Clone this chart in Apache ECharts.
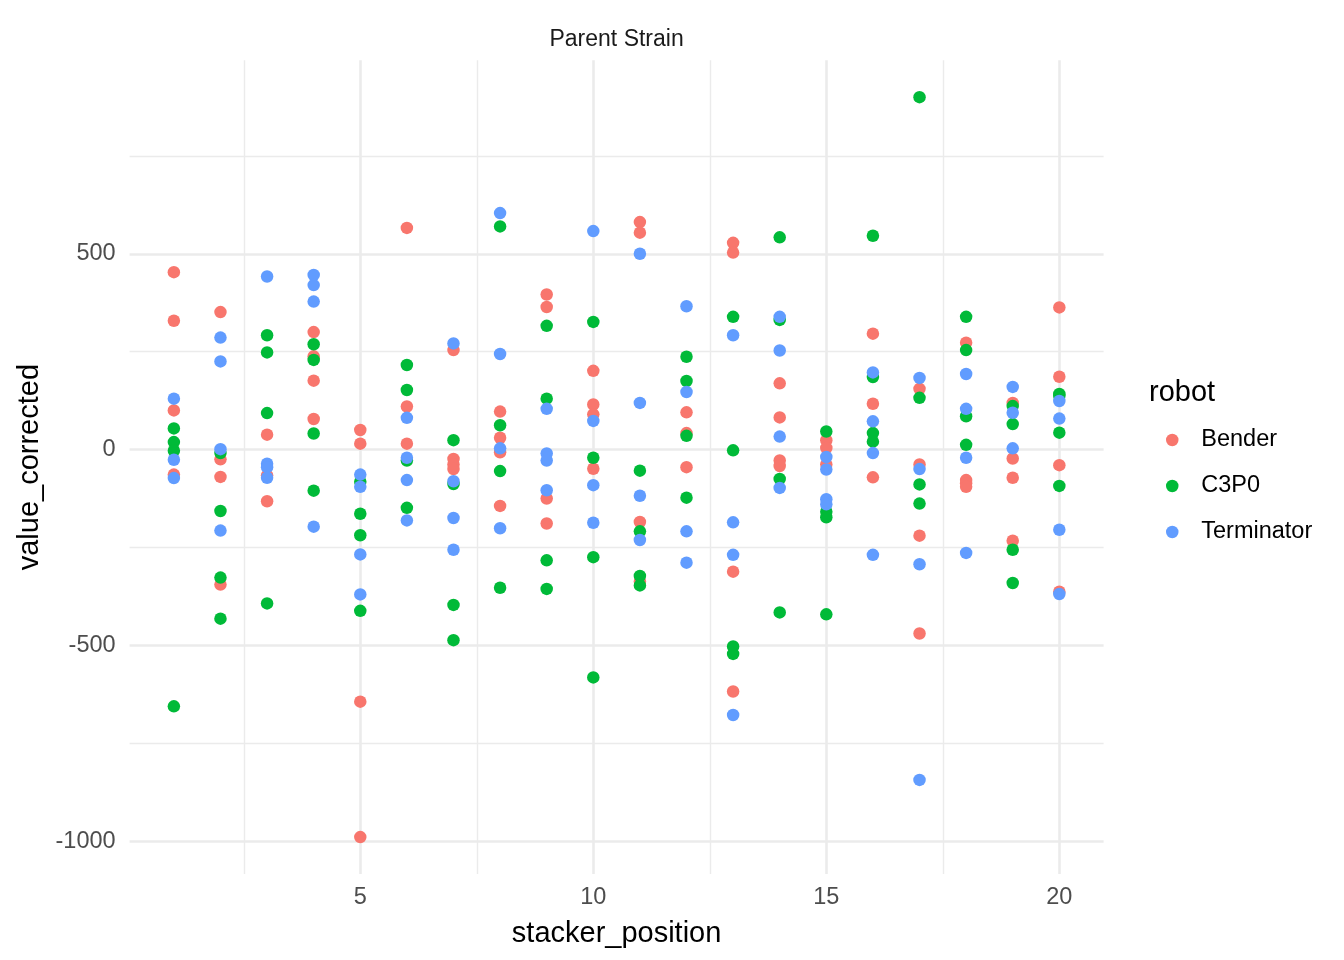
<!DOCTYPE html>
<html>
<head>
<meta charset="utf-8">
<script src="https://cdn.jsdelivr.net/npm/echarts@6/dist/echarts.min.js"></script>
<style>
html,body{margin:0;padding:0;background:#fff;}
#chart{width:1344px;height:960px;}
</style>
</head>
<body>
<div id="chart"></div>
<script>
// stacker positions 1..20
const positions = [1,2,3,4,5,6,7,8,9,10,11,12,13,14,15,16,17,18,19,20];
const robots = ['Bender','C3P0','Terminator'];
const robotColors = ['#F8766D','#00BA38','#619CFF'];

// values per stacker position
const bender = [
  [453,329,100,-64],[351,-25,-70,-345],[38,-66,-132],[300,238,176,78],
  [50,15,-644,-990],[566,110,15],[254,-24,-38,-50],[97,30,-7,-144],
  [396,364,-125,-189],[201,115,90,-49],[581,554,-185,-337],[95,42,-45],
  [528,503,-312,-618],[169,82,-28,-42],[24,4,-38],[296,117,-71],
  [155,-38,-220,-470],[273,-78,-86,-95],[119,-23,-72,-233],[363,186,-40,-363]
];
const c3p0 = [
  [54,19,-3,-656],[-9,-157,-327,-432],[292,248,93,-393],[269,229,41,-105],
  [-82,-164,-219,-412],[216,152,-28,-149],[24,-88,-397,-487],[570,62,-55,-353],
  [316,130,-283,-356],[326,-21,-275,-582],[-54,-209,-323,-347],[237,175,35,-123],
  [339,-2,-503,-522],[542,331,-75,-416],[46,-159,-173,-421],[546,185,42,20],
  [900,132,-89,-138],[339,254,85,12],[111,65,-256,-341],[142,137,43,-93]
];
const terminator = [
  [130,-26,-73],[286,225,1,-207],[442,-36,-45,-72],[446,420,378,-197],
  [-64,-95,-268,-370],[81,-21,-78,-181],[271,-81,-175,-256],[604,244,3,-201],
  [104,-10,-28,-104],[558,73,-91,-187],[500,119,-118,-231],[366,147,-209,-289],
  [292,-186,-269,-678],[339,253,33,-98],[-19,-51,-127,-140],[197,72,-9,-269],
  [183,-50,-293,-844],[193,104,-21,-264],[160,94,3],[124,79,-205,-369]
];

// tick values
const xMajorTicks = [5,10,15,20];
const xMinorTicks = [2.5,7.5,12.5,17.5];
const yMajorTicks = [-1000,-500,0,500];
const yMinorTicks = [-750,-250,250,750];
const xRange = [0.05, 20.95];
const yRange = [-1084.5, 994.5];

function toPairs(arr){
  const out = [];
  arr.forEach((vals,i)=>vals.forEach(v=>out.push([positions[i], v])));
  return out;
}
const seriesValues = [bender, c3p0, terminator];

const FONT = 'Liberation Sans, Arial, Helvetica, sans-serif';
const gridColor = '#EBEBEB';

const chart = echarts.init(document.getElementById('chart'), null, {renderer:'canvas'});

const option = {
  animation: false,
  backgroundColor: '#ffffff',
  textStyle: {fontFamily: FONT},
  grid: {left: 129.6, right: 240.4, top: 60.2, bottom: 85.9, containLabel: false},
  graphic: [
    {type:'text', style:{text:'Parent Strain', x:616.6, y:39.5, textAlign:'center', textVerticalAlign:'middle', fontSize:23, fontFamily:FONT, fill:'#1A1A1A'}},
    {type:'text', style:{text:'robot', x:1149, y:393, textAlign:'left', textVerticalAlign:'middle', fontSize:29, fontFamily:FONT, fill:'#000'}}
  ],
  legend: {
    orient: 'vertical',
    left: 1161, top: 423,
    itemWidth: 48, itemHeight: 12.5, itemGap: 22,
    icon: 'circle',
    textStyle: {fontSize: 23.5, color: '#000', fontFamily: FONT},
    data: robots
  },
  xAxis: [
    {
      type:'value', min:xRange[0], max:xRange[1],
      name:'stacker_position', nameLocation:'middle', nameGap:45,
      nameTextStyle:{fontSize:29, color:'#000', fontFamily:FONT},
      axisLine:{show:false}, 
      axisTick:{show:false, customValues:xMajorTicks},
      axisLabel:{customValues:xMajorTicks, fontSize:23.5, color:'#4D4D4D', margin:11, fontFamily:FONT,
                 formatter: v => String(v)},
      splitLine:{show:true, lineStyle:{color:gridColor, width:2.6}}
    },
    {
      type:'value', min:xRange[0], max:xRange[1], position:'bottom',
      axisLine:{show:false},
      axisTick:{show:false, customValues:xMinorTicks},
      axisLabel:{show:false, customValues:xMinorTicks},
      splitLine:{show:true, lineStyle:{color:gridColor, width:1.4}}
    }
  ],
  yAxis: [
    {
      type:'value', min:yRange[0], max:yRange[1],
      name:'value_corrected', nameLocation:'middle', nameGap:81, nameRotate:90,
      nameTextStyle:{fontSize:29, color:'#000', fontFamily:FONT},
      axisLine:{show:false},
      axisTick:{show:false, customValues:yMajorTicks},
      axisLabel:{customValues:yMajorTicks, fontSize:23.5, color:'#4D4D4D', margin:14, fontFamily:FONT,
                 formatter: v => String(v)},
      splitLine:{show:true, lineStyle:{color:gridColor, width:2.6}}
    },
    {
      type:'value', min:yRange[0], max:yRange[1], position:'left', offset:0,
      axisLine:{show:false},
      axisTick:{show:false, customValues:yMinorTicks},
      axisLabel:{show:false, customValues:yMinorTicks},
      splitLine:{show:true, lineStyle:{color:gridColor, width:1.4}}
    }
  ],
  series: robots.map((name, i) => ({
    name: name,
    type: 'scatter',
    xAxisIndex: 0, yAxisIndex: 0,
    symbol: 'circle',
    symbolSize: 12.5,
    itemStyle: {color: robotColors[i], opacity: 1},
    emphasis: {disabled: true},
    data: toPairs(seriesValues[i]),
    z: 3
  }))
};
chart.setOption(option);
</script>
</body>
</html>
